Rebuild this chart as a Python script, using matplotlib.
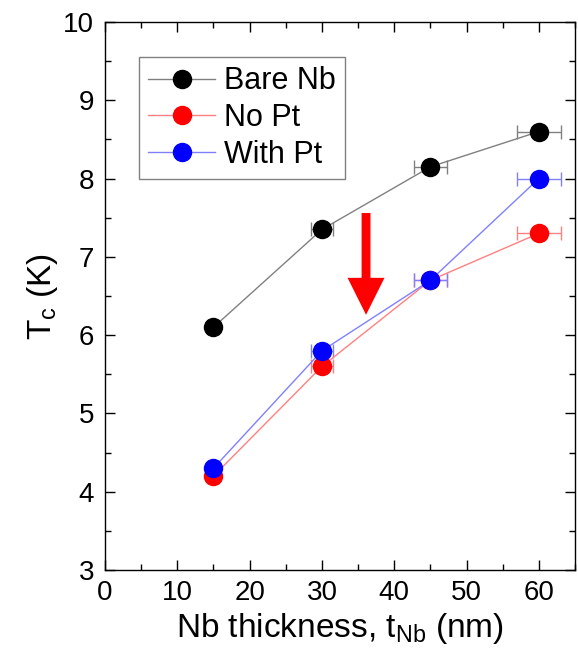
import matplotlib
matplotlib.use("Agg")
import matplotlib.pyplot as plt
from matplotlib.ticker import MultipleLocator

plt.rcParams['font.family'] = ['Liberation Sans', 'DejaVu Sans']
plt.rcParams['mathtext.fontset'] = 'custom'
plt.rcParams['mathtext.rm'] = 'Liberation Sans'

thickness = [15, 30, 45, 60]
bare_nb = [6.1, 7.35, 8.15, 8.6]
no_pt = [4.2, 5.6, 6.7, 7.3]
with_pt = [4.3, 5.8, 6.7, 8.0]
x_err = [0.0, 1.5, 2.3, 3.0]

fig = plt.figure(figsize=(5.78, 6.55), dpi=100)
ax = fig.add_axes([0.1817, 0.1298, 0.8131, 0.8366])

series = [
    ("Bare Nb", bare_nb, "black", "#808080"),
    ("No Pt", no_pt, "red", "#ff8080"),
    ("With Pt", with_pt, "blue", "#8080ff"),
]
for label, vals, mcol, lcol in series:
    ax.errorbar(thickness, vals, xerr=x_err, fmt='none', ecolor=lcol,
                elinewidth=1, capsize=5, capthick=1, zorder=2)
    ax.plot(thickness, vals, '-', color=lcol, lw=1, marker='o', ms=13,
            mfc=mcol, mec=mcol, label=label, zorder=3)

# downward arrow marking the Tc suppression
ax.annotate('', xy=(36.1, 6.26), xytext=(36.1, 7.56),
            arrowprops=dict(arrowstyle='simple,head_width=1.33,head_length=1.33,tail_width=0.32',
                            mutation_scale=20, color='red', lw=0, shrinkA=0, shrinkB=0))

ax.set_xlim(0, 65)
ax.set_ylim(3, 10)
ax.xaxis.set_major_locator(MultipleLocator(10))
ax.xaxis.set_minor_locator(MultipleLocator(5))
ax.yaxis.set_major_locator(MultipleLocator(1))
ax.yaxis.set_minor_locator(MultipleLocator(0.5))
ax.tick_params(which='both', direction='in', top=True, right=True, labelsize=20, width=1)
ax.tick_params(which='major', length=7)
ax.tick_params(which='minor', length=4)
ax.tick_params(axis='x', which='major', pad=7)
ax.tick_params(axis='y', which='major', pad=8)
for s in ax.spines.values():
    s.set_linewidth(1)

ax.set_xlabel(r'Nb thickness, t$_\mathregular{Nb}$ (nm)', fontsize=24, labelpad=4)
ax.set_ylabel(r'T$_\mathregular{c}$ (K)', fontsize=24, labelpad=2)

leg = ax.legend(loc='upper left', bbox_to_anchor=(0.072, 0.936), borderaxespad=0,
                fontsize=22, fancybox=False, edgecolor='#808080', framealpha=1,
                handlelength=2.2, handletextpad=0.3, borderpad=0.3, labelspacing=0.22)
leg.get_frame().set_linewidth(1)

fig.savefig('out.png', dpi=100)
